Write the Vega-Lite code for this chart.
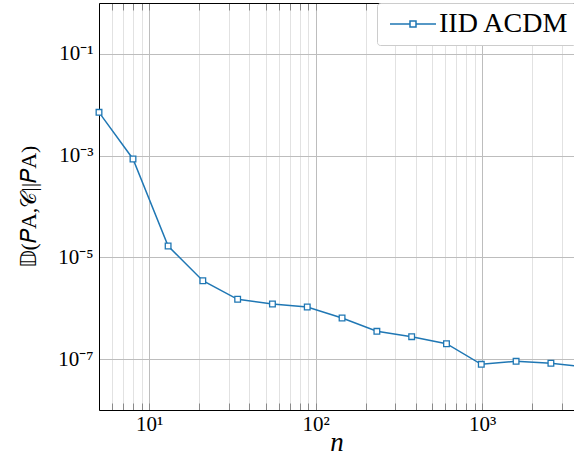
{
  "$schema": "https://vega.github.io/schema/vega-lite/v6.json",
  "width": 475,
  "height": 407,
  "autosize": {"type": "none"},
  "padding": {"left": 99, "top": 3, "right": 0, "bottom": 46},
  "background": "white",
  "config": {"view": {"stroke": null}, "font": "Liberation Serif"},
  "data": {
    "values": [
      {"n": 5, "d": 7.1e-3},
      {"n": 8, "d": 8.6e-4},
      {"n": 13, "d": 1.67e-5},
      {"n": 21, "d": 3.48e-6},
      {"n": 34, "d": 1.5e-6},
      {"n": 55, "d": 1.21e-6},
      {"n": 89, "d": 1.06e-6},
      {"n": 144, "d": 6.43e-7},
      {"n": 233, "d": 3.52e-7},
      {"n": 377, "d": 2.76e-7},
      {"n": 610, "d": 2.01e-7},
      {"n": 987, "d": 7.9e-8},
      {"n": 1597, "d": 9.06e-8},
      {"n": 2584, "d": 8.28e-8},
      {"n": 4181, "d": 7.0e-8}
    ]
  },
  "encoding": {
    "y": {
      "field": "d",
      "type": "quantitative",
      "scale": {"type": "log", "domain": [1e-8, 1], "nice": false},
      "axis": {
        "values": [0.1, 0.001, 0.00001, 0.0000001],
        "labelExpr": "datum.value >= 0.05 ? '10⁻¹' : datum.value >= 0.0005 ? '10⁻³' : datum.value >= 0.000005 ? '10⁻⁵' : '10⁻⁷'",
        "labelFont": "Liberation Serif",
        "labelFontSize": 21,
        "labelColor": "black",
        "labelPadding": 6,
        "labelFlush": false,
        "labelOverlap": false,
        "ticks": false,
        "domainColor": "black",
        "domainWidth": 1,
        "grid": true,
        "gridColor": "#bdbdbd",
        "gridWidth": 1,
        "title": "𝔻(𝑃A,𝒞||𝑃A)",
        "titleFont": "Liberation Serif",
        "titleFontSize": 22,
        "titleFontWeight": "normal",
        "titleColor": "black",
        "titleBaseline": "alphabetic",
        "titleX": -64
      }
    }
  },
  "layer": [
    {
      "mark": {"type": "line", "clip": true, "strokeWidth": 1.5},
      "encoding": {
        "x": {
          "field": "n",
          "type": "quantitative",
          "scale": {"type": "log", "domain": [5, 3556], "nice": false},
          "axis": {
            "orient": "bottom",
            "values": [5, 6, 7, 8, 9, 10, 20, 30, 40, 50, 60, 70, 80, 90, 100, 200, 300, 400, 500, 600, 700, 800, 900, 1000, 2000, 3000],
            "labelExpr": "datum.value == 10 ? '10¹' : datum.value == 100 ? '10²' : datum.value == 1000 ? '10³' : ''",
            "labelFont": "Liberation Serif",
            "labelFontSize": 21,
            "labelColor": "black",
            "labelPadding": 10,
            "labelFlush": false,
            "labelOverlap": false,
            "tickSize": -7,
            "tickColor": "#8a8a8a",
            "tickWidth": 1,
            "domainColor": "black",
            "domainWidth": 1,
            "grid": true,
            "gridColor": {"condition": {"test": "datum.value == 10 || datum.value == 100 || datum.value == 1000", "value": "#bdbdbd"}, "value": "#e2e2e2"},
            "gridWidth": 1,
            "title": "n",
            "titleFont": "Liberation Serif",
            "titleFontSize": 27,
            "titleFontStyle": "italic",
            "titleFontWeight": "normal",
            "titleColor": "black",
            "titleBaseline": "alphabetic",
            "titleY": 40
          }
        },
        "color": {
          "datum": "IID ACDM",
          "scale": {"range": ["#1f77b4"]},
          "legend": {
            "orient": "none",
            "legendX": 278,
            "legendY": 0,
            "title": null,
            "symbolType": "M-0.8,0H1.2M1.8,0H3.8M1.2,-0.3H1.8V0.3H1.2Z",
            "symbolSize": 400,
            "symbolStrokeWidth": 1.5,
            "symbolStrokeColor": "#1f77b4",
            "symbolFillColor": "transparent",
            "labelFont": "Liberation Serif",
            "labelFontSize": 28,
            "labelColor": "black",
            "labelOffset": 27,
            "labelLimit": 400,
            "padding": 7,
            "strokeColor": "#cccccc",
            "fillColor": "white",
            "cornerRadius": 3
          }
        }
      }
    },
    {
      "mark": {"type": "point", "shape": "square", "clip": false, "filled": true, "fill": "white", "stroke": "#1f77b4", "strokeWidth": 1.3, "size": 32, "opacity": 1},
      "encoding": {
        "x": {
          "field": "n",
          "type": "quantitative",
          "scale": {"type": "log", "domain": [5, 3556], "nice": false},
          "axis": {
            "orient": "top",
            "values": [5, 6, 7, 8, 9, 10, 20, 30, 40, 50, 60, 70, 80, 90, 100, 200, 300, 400, 500, 600, 700, 800, 900, 1000, 2000, 3000],
            "labels": false,
            "title": null,
            "grid": false,
            "tickSize": -7,
            "tickColor": "#8a8a8a",
            "tickWidth": 1,
            "domainColor": "black",
            "domainWidth": 1
          }
        }
      }
    }
  ],
  "resolve": {"axis": {"x": "independent"}}
}
